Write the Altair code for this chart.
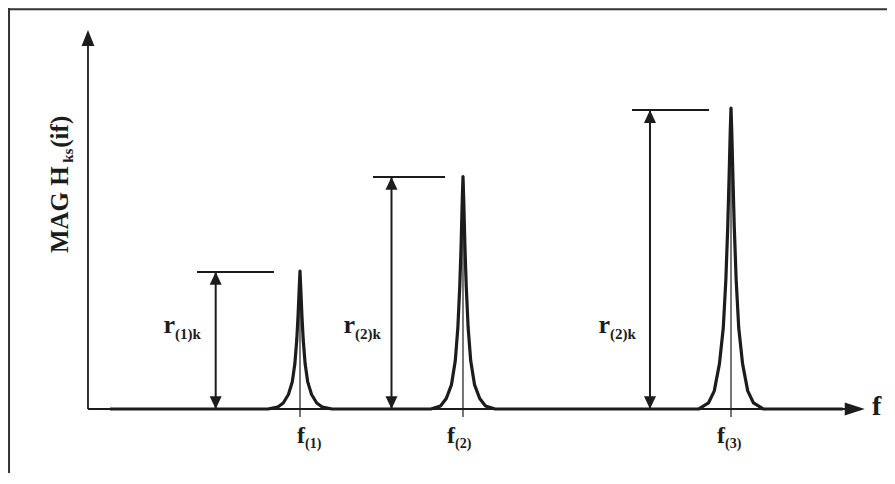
import altair as alt
import pandas as pd

# ---------------- data ----------------
# frequency units: 0 at the vertical axis, f(3) = 100 ; magnitude: r(3) = 1
peak_f = [32.97, 58.32, 100.0]
f_sub_labels = ["(1)", "(2)", "(3)"]
peak_height = [0.458, 0.772, 1.0]
# one-sided profile of each resonance peak (offset from centre -> magnitude)
profile_offset = [0.0, 0.12, 0.3, 0.5, 0.8, 1.2, 1.8, 2.6, 3.5, 5.0]
peak1_profile = [0.458, 0.40, 0.31, 0.23, 0.15, 0.09, 0.048, 0.02, 0.006, 0.0]
peak2_profile = [0.772, 0.69, 0.54, 0.41, 0.27, 0.16, 0.08, 0.035, 0.01, 0.0]
peak3_profile = [1.0, 0.92, 0.77, 0.61, 0.43, 0.27, 0.15, 0.06, 0.02, 0.0]
curve_start = 3.42
curve_end = 117.4

# r markers (horizontal level lines and double arrows)
r_level = [0.455, 0.771, 0.993]
r_line_from = [16.95, 44.32, 84.6]
r_line_to = [28.93, 55.52, 96.58]
r_arrow_f = [19.86, 47.2, 87.4]
r_label_f = [13.53, 41.52, 81.18]
r_sub_labels = ["(1)k", "(2)k", "(2)k"]
r_label_y = 0.253
r_sub_y = 0.233

# f labels under the peaks
f_label_f = [33.75, 57.08, 99.07]
f_label_y = -0.113
f_sub_y = -0.130

# axes
x_axis_end = 118.0
x_arrow_tip = 120.8
y_arrow_tip = 1.259
y_axis_end = 1.209
tick_bottom = -0.027

X_DOMAIN = [-12.44, 124.26]
Y_DOMAIN = [-0.2127, 1.3322]
W, H = 879, 465

INK = "#1c1c1c"
FONT = "Liberation Serif"

# ---------------- tables ----------------
pts = [(curve_start, 0.0)]
for fc, prof in zip(peak_f, [peak1_profile, peak2_profile, peak3_profile]):
    for off, h in reversed(list(zip(profile_offset, prof))):
        pts.append((fc - off, h))
    for off, h in list(zip(profile_offset, prof))[1:]:
        pts.append((fc + off, h))
pts.append((curve_end, 0.0))
curve_df = pd.DataFrame(pts, columns=["f", "mag"])

xs = alt.Scale(domain=X_DOMAIN, nice=False, zero=False)
ys = alt.Scale(domain=Y_DOMAIN, nice=False, zero=False)


def X(field="f"):
    return alt.X(field, type="quantitative", scale=xs, axis=None)


def Y(field="mag"):
    return alt.Y(field, type="quantitative", scale=ys, axis=None)


layers = []

# frame (top and left edges of the figure box)
frame_df = pd.DataFrame({
    "f": [X_DOMAIN[0] + 0.16, X_DOMAIN[0]],
    "f2": [X_DOMAIN[0] + 0.16, X_DOMAIN[1]],
    "mag": [Y_DOMAIN[0], Y_DOMAIN[1] - 0.004],
    "mag2": [Y_DOMAIN[1], Y_DOMAIN[1] - 0.004],
})
layers.append(alt.Chart(frame_df).mark_rule(color="#333333", strokeWidth=2).encode(
    x=X(), x2="f2", y=Y(), y2="mag2"))

# axes lines
axes_df = pd.DataFrame({
    "f": [0.0, 0.0], "f2": [x_axis_end, 0.0],
    "mag": [0.0, 0.0], "mag2": [0.0, y_axis_end],
})
layers.append(alt.Chart(axes_df).mark_rule(color=INK, strokeWidth=1.8).encode(
    x=X(), x2="f2", y=Y(), y2="mag2"))

# axis arrowheads
layers.append(alt.Chart(pd.DataFrame({"f": [0.0], "mag": [y_arrow_tip]})).mark_point(
    shape="M0,0L0.8,2L-0.8,2Z", size=256, filled=True, color=INK, opacity=1, strokeWidth=0
).encode(x=X(), y=Y()))
layers.append(alt.Chart(pd.DataFrame({"f": [x_arrow_tip], "mag": [0.0]})).mark_point(
    shape="M0,0L-2,-0.65L-2,0.65Z", size=400, filled=True, color=INK, opacity=1, strokeWidth=0
).encode(x=X(), y=Y()))

# thin centre lines through the peaks (down to below the axis)
centre_df = pd.DataFrame({"f": peak_f, "mag": [tick_bottom] * 3, "mag2": peak_height})
layers.append(alt.Chart(centre_df).mark_rule(color=INK, strokeWidth=1.2).encode(
    x=X(), y=Y(), y2="mag2"))

# spectrum curve
layers.append(alt.Chart(curve_df).mark_line(color=INK, strokeWidth=3.2, strokeJoin="round").encode(
    x=X(), y=Y()))

# r level lines
level_df = pd.DataFrame({"f": r_line_from, "f2": r_line_to, "mag": r_level})
layers.append(alt.Chart(level_df).mark_rule(color=INK, strokeWidth=2).encode(
    x=X(), x2="f2", y=Y()))

# double arrows
arrow_df = pd.DataFrame({"f": r_arrow_f, "mag": [0.0] * 3, "mag2": r_level})
layers.append(alt.Chart(arrow_df).mark_rule(color=INK, strokeWidth=2).encode(
    x=X(), y=Y(), y2="mag2"))
layers.append(alt.Chart(pd.DataFrame({"f": r_arrow_f, "mag": r_level})).mark_point(
    shape="M0,0L0.75,1.6L-0.75,1.6Z", size=256, filled=True, color=INK, opacity=1, strokeWidth=0
).encode(x=X(), y=Y()))
layers.append(alt.Chart(pd.DataFrame({"f": r_arrow_f, "mag": [0.0] * 3})).mark_point(
    shape="M0,0L0.75,-1.6L-0.75,-1.6Z", size=256, filled=True, color=INK, opacity=1, strokeWidth=0
).encode(x=X(), y=Y()))

# r labels
r_df = pd.DataFrame({"f": r_label_f, "mag": [r_label_y] * 3, "t": ["r"] * 3})
layers.append(alt.Chart(r_df).mark_text(
    align="right", baseline="alphabetic", font=FONT, fontWeight="bold", fontSize=26, color=INK
).encode(x=X(), y=Y(), text="t:N"))
rs_df = pd.DataFrame({"f": r_label_f, "mag": [r_sub_y] * 3, "t": r_sub_labels})
layers.append(alt.Chart(rs_df).mark_text(
    align="left", baseline="alphabetic", font=FONT, fontWeight="bold", fontSize=15, color=INK
).encode(x=X(), y=Y(), text="t:N"))

# f labels
fl_df = pd.DataFrame({"f": f_label_f, "mag": [f_label_y] * 3, "t": ["f"] * 3})
layers.append(alt.Chart(fl_df).mark_text(
    align="right", baseline="alphabetic", font=FONT, fontWeight="bold", fontSize=24, color=INK
).encode(x=X(), y=Y(), text="t:N"))
fs_df = pd.DataFrame({"f": f_label_f, "mag": [f_sub_y] * 3, "t": f_sub_labels})
layers.append(alt.Chart(fs_df).mark_text(
    align="left", baseline="alphabetic", font=FONT, fontWeight="bold", fontSize=14, color=INK
).encode(x=X(), y=Y(), text="t:N"))

# axis name "f"
layers.append(alt.Chart(pd.DataFrame({"f": [121.93], "mag": [-0.02], "t": ["f"]})).mark_text(
    align="left", baseline="alphabetic", font=FONT, fontWeight="bold", fontSize=28, color=INK
).encode(x=X(), y=Y(), text="t:N"))

# y axis title: MAG H_ks(if)
ytitle_df = pd.DataFrame({
    "f": [-3.11, -2.4, -3.11],
    "mag": [0.518, 0.818, 0.868],
    "t": ["MAG H", "ks", "(if)"],
    "size": [25, 15, 25],
})
for i in range(3):
    row = ytitle_df.iloc[[i]]
    layers.append(alt.Chart(row).mark_text(
        align="left", baseline="alphabetic", angle=270, font=FONT, fontWeight="bold",
        fontSize=int(row["size"].iloc[0]), color=INK
    ).encode(x=X(), y=Y(), text="t:N"))

chart = alt.layer(*layers).properties(
    width=W, height=H, autosize=alt.AutoSizeParams(type="none"), padding=0,
    background="white"
).configure_view(stroke=None)

chart.save("out.html", embed_options={"renderer": "svg", "actions": False})
